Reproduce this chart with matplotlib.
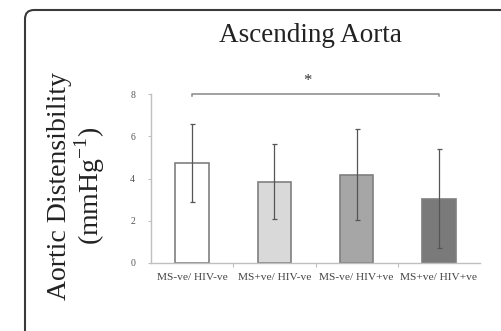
import matplotlib.pyplot as plt
from matplotlib.patches import FancyBboxPatch

groups = ['MS-ve/ HIV-ve', 'MS+ve/ HIV-ve', 'MS-ve/ HIV+ve', 'MS+ve/ HIV+ve']
means = [4.75, 3.84, 4.18, 3.05]
errors = [1.85, 1.77, 2.15, 2.36]
colors = ['#ffffff', '#d9d9d9', '#a6a6a6', '#7a7a7a']
yticks = [0, 2, 4, 6, 8]

plt.rcParams['font.family'] = ['Liberation Serif', 'DejaVu Serif']

fig = plt.figure(figsize=(5.01, 3.31), dpi=100)

# rounded frame around the panel (runs off right and bottom edges)
frame = FancyBboxPatch((25 / 501, -0.2), 1.2, 1 - 10 / 331 + 0.2,
                       boxstyle='round,pad=0,rounding_size=0.018',
                       transform=fig.transFigure, facecolor='none',
                       edgecolor='#3a3a3a', linewidth=1.5, mutation_aspect=501 / 331)
fig.patches.append(frame)

ax = fig.add_axes([151 / 501, 1 - 263 / 331, 329 / 501, 169 / 331])
x = range(len(groups))
ax.bar(x, means, width=0.41, color=colors, edgecolor='#7f7f7f', linewidth=1.2, zorder=2)
ax.errorbar(x, means, yerr=errors, fmt='none', ecolor='#555555', elinewidth=0.9,
            capsize=1.8, capthick=0.9, zorder=3)

ax.set_xlim(-0.5, 3.5)
ax.set_ylim(0, 8)
ax.set_yticks(yticks)
ax.set_yticklabels([str(v) for v in yticks], fontsize=7, color='#555555')
ax.tick_params(axis='y', length=2.5, color='#bfbfbf', pad=9)
ax.set_xticks([0.5, 1.5, 2.5], minor=False)
ax.set_xticklabels([])
ax.tick_params(axis='x', length=3, color='#bfbfbf', direction='out')
for i, g in enumerate(groups):
    ax.text(i, -0.68, g, ha='center', va='center', fontsize=8.2, color='#444444')

for side in ['top', 'right']:
    ax.spines[side].set_visible(False)
for side in ['left', 'bottom']:
    ax.spines[side].set_color('#bfbfbf')
    ax.spines[side].set_linewidth(1.0)

# significance bracket
ax.plot([0, 0, 3, 3], [7.9, 8.0, 8.0, 7.9], color='#888888', linewidth=1.1, clip_on=False)
ax.text(1.4, 8.6, '*', ha='center', va='center', fontsize=12, color='#333333')

fig.text(310 / 501, 1 - 35 / 331, 'Ascending Aorta', ha='center', va='center', fontsize=19.5, color='#222222')
fig.text(77 / 501, 1 - 186 / 331, 'Aortic Distensibility\n(mmHg$^{\\mathregular{-1}}$)', ha='center', va='center',
         rotation=90, fontsize=20, color='#222222', linespacing=1.0)

fig.savefig('out.png', dpi=100)
